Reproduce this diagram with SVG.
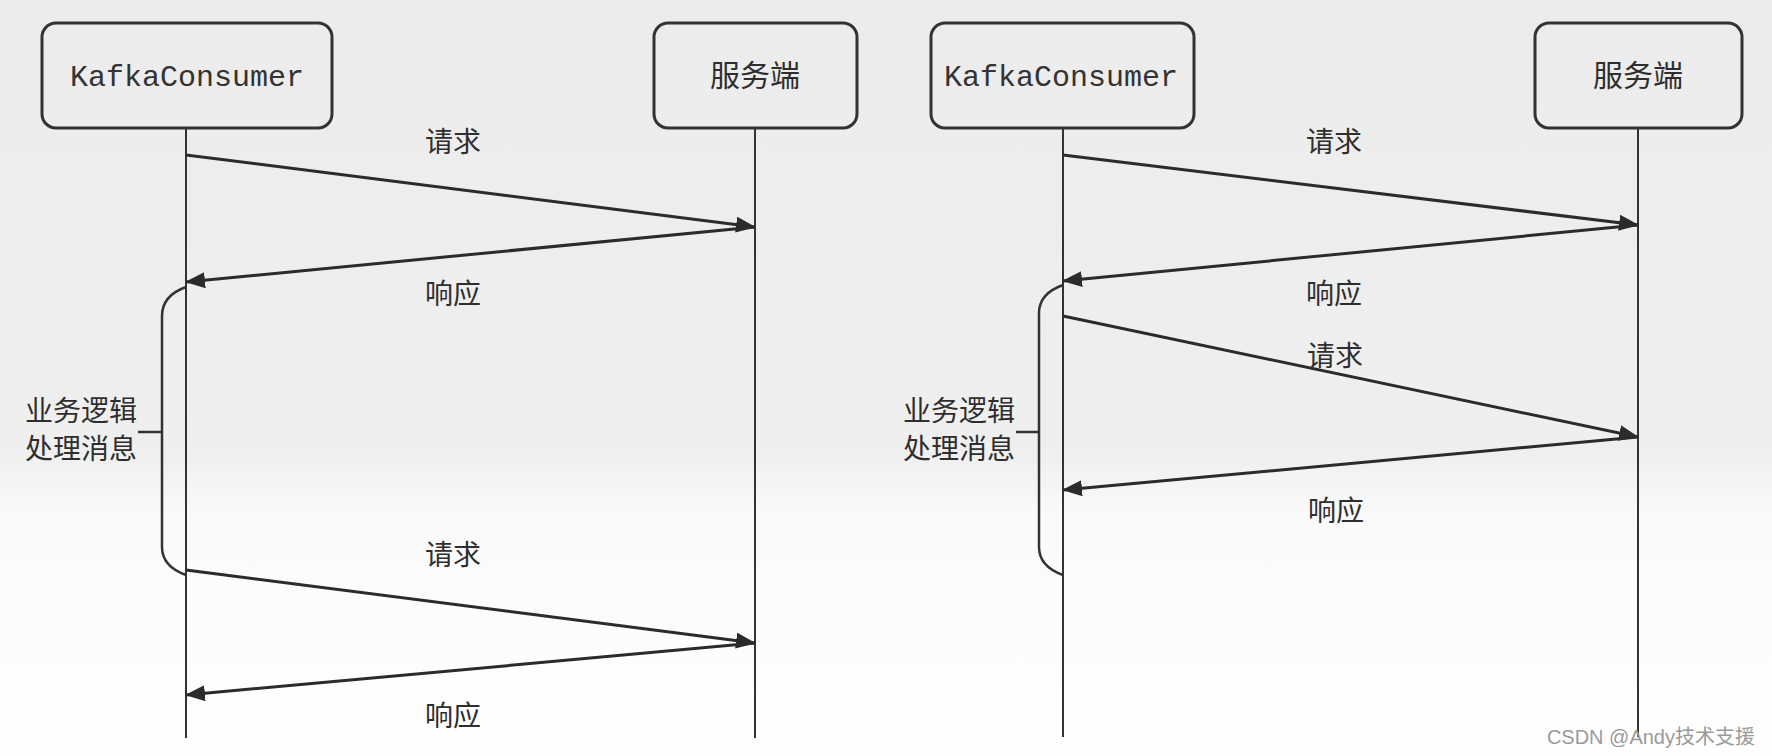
<svg xmlns="http://www.w3.org/2000/svg" width="1772" height="756" viewBox="0 0 1772 756">
  <defs>
    <linearGradient id="bg" x1="0" y1="0" x2="0" y2="1">
      <stop offset="0" stop-color="#ececec"/>
      <stop offset="0.6" stop-color="#efefef"/>
      <stop offset="0.68" stop-color="#fafafa"/>
      <stop offset="1" stop-color="#ffffff"/>
    </linearGradient>
    <marker id="arrow" viewBox="0 0 20 16" refX="19" refY="8" markerWidth="20" markerHeight="16" markerUnits="userSpaceOnUse" orient="auto">
      <path d="M0,0 L20,8 L0,16 z" fill="#2b2b2b"/>
    </marker>
    <style>
      .box { fill: none; stroke: #333; stroke-width: 3; }
      .life { stroke: #333; stroke-width: 2; fill: none; }
      .msg { stroke: #2b2b2b; stroke-width: 3; fill: none; marker-end: url(#arrow); }
      .brace { stroke: #333; stroke-width: 2.5; fill: none; }
      .mono { font-family: "Liberation Mono", "Courier New", monospace; font-size: 30px; fill: #333; text-anchor: middle; }
      .cjk { font-family: "Noto Sans CJK SC", "Noto Sans", sans-serif; font-size: 28px; fill: #2e2e2e; }
      .title { font-size: 30px; text-anchor: middle; }
      .lbl { text-anchor: middle; }
      .note { text-anchor: end; }
      .wm { font-family: "Liberation Sans", "Noto Sans CJK SC", sans-serif; font-size: 20px; fill: #9a9a9a; text-anchor: end; }
    </style>
  </defs>

  <rect x="0" y="0" width="1772" height="756" fill="url(#bg)"/>

  <!-- Left panel -->
  <g id="left-consumer">
    <rect class="box" x="42" y="23" width="290" height="105" rx="14"/>
    <text class="mono" x="187" y="86">KafkaConsumer</text>
    <line class="life" x1="186" y1="128" x2="186" y2="738"/>
  </g>
  <g id="left-server">
    <rect class="box" x="654" y="23" width="203" height="105" rx="14"/>
    <text class="cjk title" x="755" y="86">服务端</text>
    <line class="life" x1="755" y1="128" x2="755" y2="738"/>
  </g>
  <g id="left-processing">
    <path class="brace" d="M186,287 C172,292 162,300 162,316 L162,547 C162,562 172,570 186,575"/>
    <line class="brace" x1="138" y1="432" x2="162" y2="432"/>
    <text class="cjk note" x="137" y="421">业务逻辑</text>
    <text class="cjk note" x="137" y="459">处理消息</text>
  </g>

  <!-- Right panel -->
  <g id="right-consumer">
    <rect class="box" x="931" y="23" width="263" height="105" rx="14"/>
    <text class="mono" x="1061" y="86">KafkaConsumer</text>
    <line class="life" x1="1063" y1="128" x2="1063" y2="737"/>
  </g>
  <g id="right-server">
    <rect class="box" x="1535" y="23" width="207" height="105" rx="14"/>
    <text class="cjk title" x="1638" y="86">服务端</text>
    <line class="life" x1="1638" y1="128" x2="1638" y2="737"/>
  </g>
  <g id="right-processing">
    <path class="brace" d="M1063,285 C1049,290 1039,298 1039,313 L1039,547 C1039,562 1049,570 1063,575"/>
    <line class="brace" x1="1016" y1="432" x2="1039" y2="432"/>
    <text class="cjk note" x="1015" y="421">业务逻辑</text>
    <text class="cjk note" x="1015" y="459">处理消息</text>
  </g>

  <!-- Connectors -->
  <g id="connectors">
    <line class="msg" x1="186" y1="155" x2="755" y2="227"/>
    <line class="msg" x1="755" y1="227" x2="186" y2="282"/>
    <line class="msg" x1="186" y1="570" x2="755" y2="643"/>
    <line class="msg" x1="755" y1="643" x2="186" y2="695"/>

    <line class="msg" x1="1063" y1="155" x2="1638" y2="225"/>
    <line class="msg" x1="1638" y1="225" x2="1063" y2="281"/>
    <line class="msg" x1="1063" y1="316" x2="1638" y2="437"/>
    <line class="msg" x1="1638" y1="437" x2="1063" y2="490"/>
  </g>

  <g id="connector-labels">
    <text class="cjk lbl" x="453" y="152">请求</text>
    <text class="cjk lbl" x="453" y="304">响应</text>
    <text class="cjk lbl" x="453" y="565">请求</text>
    <text class="cjk lbl" x="453" y="726">响应</text>

    <text class="cjk lbl" x="1334" y="152">请求</text>
    <text class="cjk lbl" x="1334" y="304">响应</text>
    <text class="cjk lbl" x="1335" y="366">请求</text>
    <text class="cjk lbl" x="1336" y="521">响应</text>
  </g>

  <text class="wm" x="1755" y="744">CSDN @Andy技术支援</text>
</svg>
